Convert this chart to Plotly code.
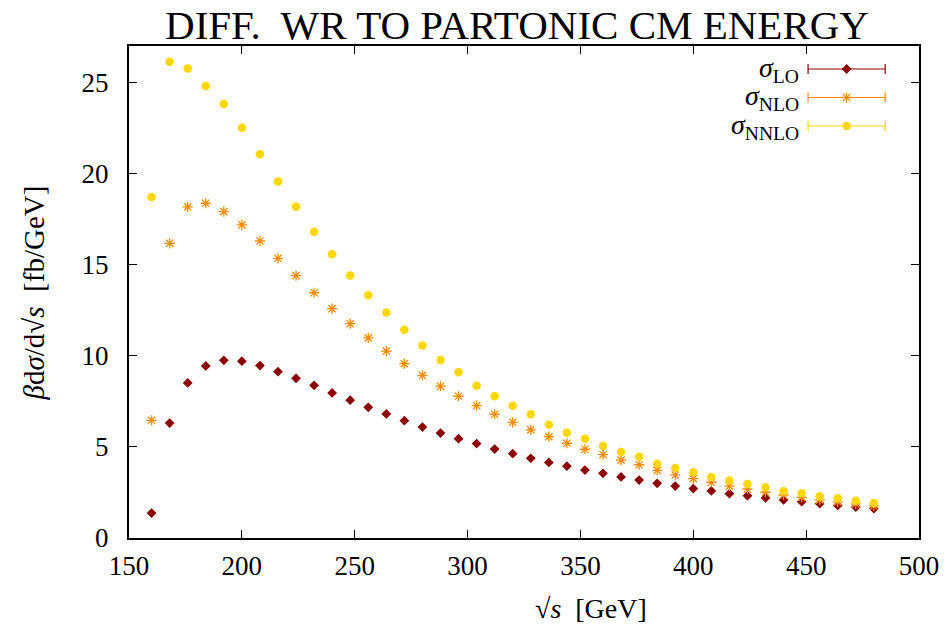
import plotly.graph_objects as go

# Bin centres in sqrt(s) [GeV]
sqrt_s = [160, 168, 176, 184, 192, 200, 208, 216, 224, 232, 240, 248, 256, 264,
          272, 280, 288, 296, 304, 312, 320, 328, 336, 344, 352, 360, 368, 376,
          384, 392, 400, 408, 416, 424, 432, 440, 448, 456, 464, 472, 480]

# beta * dsigma / dsqrt(s)  [fb/GeV]
sigma_lo = [1.37, 6.31, 8.51, 9.44, 9.75, 9.70, 9.46, 9.13, 8.76, 8.38, 7.96, 7.56,
            7.17, 6.81, 6.44, 6.09, 5.76, 5.45, 5.18, 4.88, 4.63, 4.37, 4.15, 3.94,
            3.73, 3.55, 3.35, 3.18, 3.00, 2.85, 2.71, 2.58, 2.43, 2.32, 2.20, 2.09,
            1.99, 1.88, 1.79, 1.70, 1.61]
sigma_nlo = [6.46, 16.17, 18.17, 18.37, 17.91, 17.18, 16.30, 15.35, 14.40, 13.46,
             12.59, 11.76, 10.98, 10.26, 9.57, 8.93, 8.33, 7.78, 7.26, 6.79, 6.35,
             5.93, 5.56, 5.20, 4.87, 4.57, 4.27, 4.02, 3.71, 3.46, 3.26, 3.06, 2.85,
             2.69, 2.51, 2.36, 2.23, 2.09, 1.98, 1.87, 1.76]
sigma_nnlo = [18.71, 26.14, 25.76, 24.81, 23.82, 22.52, 21.06, 19.56, 18.18, 16.81,
              15.57, 14.40, 13.32, 12.37, 11.43, 10.57, 9.77, 9.09, 8.36, 7.78, 7.26,
              6.79, 6.22, 5.78, 5.45, 5.05, 4.72, 4.46, 4.08, 3.84, 3.61, 3.35, 3.15,
              2.96, 2.78, 2.56, 2.45, 2.29, 2.18, 2.05, 1.92]

x_ticks = [150, 200, 250, 300, 350, 400, 450, 500]
y_ticks = [0, 5, 10, 15, 20, 25]

series_names = ["<i>σ</i><sub>LO</sub>", "<i>σ</i><sub>NLO</sub>", "<i>σ</i><sub>NNLO</sub>"]
series_colors = ["#8b0000", "#ff8c00", "#ffd700"]
series_symbols = ["diamond", "asterisk-open", "circle"]
series_sizes = [7.5, 8.5, 8.5]
series_values = [sigma_lo, sigma_nlo, sigma_nnlo]

FONT = "Liberation Serif"
W, H = 951, 627
L, R, T, B = 129, 28, 46, 89
PW, PH = W - L - R, H - T - B

fig = go.Figure()

for vals, col, sym, sz in zip(series_values, series_colors, series_symbols, series_sizes):
    fig.add_trace(go.Scatter(
        x=sqrt_s, y=vals, mode="markers", showlegend=False,
        marker=dict(symbol=sym, size=sz, color=col,
                    line=dict(color=col, width=1.3 if sym == "asterisk-open" else 0)),
        hoverinfo="x+y",
    ))

# Key drawn in a pixel-like overlay frame: label, then a sample bar with caps and a marker
key_y = [69, 97.5, 126]
kx0, kx1 = 811.5, 889
for name, col, sym, sz, ky in zip(series_names, series_colors, series_symbols, series_sizes, key_y):
    fig.add_trace(go.Scatter(
        x=[kx0, kx0, None, kx0, kx1, None, kx1, kx1],
        y=[ky - 5, ky + 5, None, ky, ky, None, ky - 5, ky + 5],
        mode="lines", line=dict(color=col, width=1.2),
        xaxis="x2", yaxis="y2", showlegend=False, hoverinfo="skip",
    ))
    fig.add_trace(go.Scatter(
        x=[(kx0 + kx1) / 2], y=[ky], mode="markers",
        marker=dict(symbol=sym, size=sz, color=col,
                    line=dict(color=col, width=1.3 if sym == "asterisk-open" else 0)),
        xaxis="x2", yaxis="y2", showlegend=False, hoverinfo="skip",
    ))
    fig.add_annotation(
        x=804, y=ky, xref="x2", yref="y2", text=name, showarrow=False,
        xanchor="right", yanchor="middle",
        font=dict(family=FONT, size=28, color="black"),
    )

axis_common = dict(
    showline=True, linecolor="black", linewidth=2, mirror="allticks",
    ticks="inside", ticklen=8, tickwidth=1.3, tickcolor="black",
    showgrid=False, zeroline=False,
    tickfont=dict(family=FONT, size=27, color="black"),
)

fig.update_layout(
    width=W, height=H,
    margin=dict(l=L, r=R, t=T, b=B),
    plot_bgcolor="white", paper_bgcolor="white",
    xaxis=dict(range=[150, 500], tickvals=x_ticks, ticklabelstandoff=3, **axis_common),
    yaxis=dict(range=[0, 27], tickvals=y_ticks, ticklabelstandoff=13, **axis_common),
    xaxis2=dict(overlaying="x", range=[L, W - R], visible=False),
    yaxis2=dict(overlaying="y", range=[H - B, T], visible=False),
    title=dict(text="DIFF.  WR TO PARTONIC CM ENERGY", x=517 / W, xref="container",
               xanchor="center", y=1 - 25 / H, yref="container", yanchor="middle",
               font=dict(family=FONT, size=41, color="black")),
    showlegend=False,
)

fig.add_annotation(
    xref="paper", yref="paper", x=(593 - L) / PW, y=-(608 - (H - B)) / PH,
    text="√<i>s</i>  [GeV]", showarrow=False, xanchor="center", yanchor="middle",
    font=dict(family=FONT, size=28, color="black"),
)

fig.add_annotation(
    xref="paper", yref="paper", x=-(L - 34) / PW, y=(H - B - 293) / PH,
    text="<i>β</i>d<i>σ</i>/d√<i>s</i>  [fb/GeV]", textangle=-90, showarrow=False,
    xanchor="center", yanchor="middle",
    font=dict(family=FONT, size=29, color="black"),
)

fig.write_html("out.html")
